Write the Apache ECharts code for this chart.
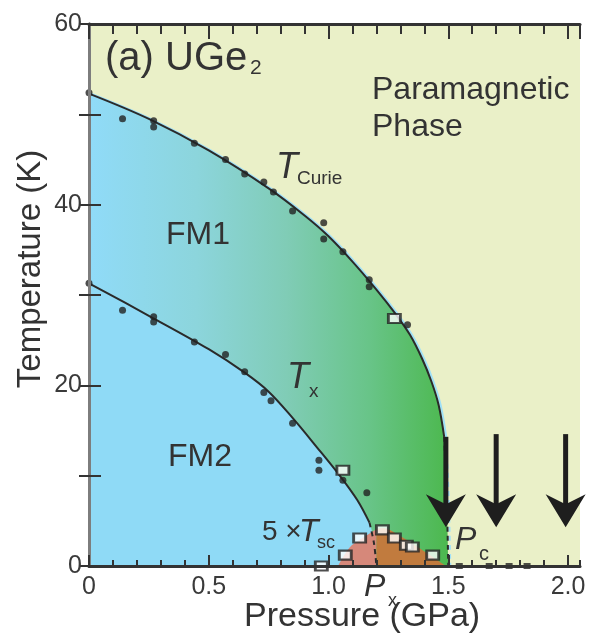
<!DOCTYPE html>
<html><head><meta charset="utf-8">
<script src="https://cdn.jsdelivr.net/npm/echarts@6/dist/echarts.min.js"></script>
<style>html,body{margin:0;padding:0;background:#fff}#c{width:594px;height:636px}</style>
</head><body><div id="c"></div>
<script>
// ---- data (pressure in GPa, temperature in K) ----
const curieP = [0, 0.25, 0.5, 0.75, 0.9, 1.0, 1.1, 1.2, 1.28, 1.34, 1.39, 1.43, 1.46, 1.483];
const curieT = [52.3, 49.5, 46.0, 41.8, 38.8, 36.5, 33.7, 30.6, 27.9, 25.6, 23.0, 20.4, 17.8, 14.3];
const curieDashP = [1.483, 1.494, 1.5];
const curieDashT = [14.3, 7.0, 0];
const txP = [0, 0.25, 0.5, 0.65, 0.75, 0.85, 0.95, 1.05, 1.12, 1.171];
const txT = [31.3, 27.7, 24.0, 21.4, 19.3, 16.4, 13.2, 9.9, 7.3, 4.8];
const txDashP = [1.171, 1.19, 1.2];
const txDashT = [4.8, 2.5, 0];
const curieDotP = [0, 0.14, 0.27, 0.27, 0.44, 0.57, 0.65, 0.73, 0.77, 0.85, 0.98, 0.98, 1.06, 1.17, 1.17, 1.33];
const curieDotT = [52.4, 49.5, 49.3, 48.6, 46.8, 45.0, 43.4, 42.5, 41.4, 39.3, 38.0, 36.2, 34.8, 31.7, 30.9, 26.7];
const txDotP = [0, 0.14, 0.27, 0.27, 0.44, 0.57, 0.65, 0.73, 0.76, 0.85, 0.96, 0.96, 1.06, 1.16];
const txDotT = [31.3, 28.3, 27.6, 27.0, 24.8, 23.4, 21.5, 19.2, 18.3, 15.8, 11.7, 10.6, 9.5, 8.1];
const openP = [1.275, 1.06];
const openT = [27.4, 10.6];
const scP = [0.97, 1.07, 1.13, 1.225, 1.275, 1.325, 1.35, 1.435];
const scT = [0, 1.2, 3.1, 4.0, 3.1, 2.3, 2.1, 1.2];
const zeroP = [1.546, 1.671, 1.754, 1.829];
const zeroT = [0, 0, 0, 0];
const scLeftP = [1.04, 1.09, 1.16, 1.2];
const scLeftT = [0, 2.1, 3.4, 4.1];
const scRightP = [1.2, 1.23, 1.275, 1.337, 1.412, 1.49];
const scRightT = [4.1, 4.2, 3.7, 2.7, 1.4, 0];
const arrowP = [1.49, 1.70, 1.99];
const arrowTopT = [14.3, 14.6, 14.6];
const arrowTipT = [4.3, 4.3, 4.3];
const xTickLabels = ['0', '0.5', '1.0', '1.5', '2.0'];
const yTickLabels = ['0', '20', '40', '60'];

// ---- helpers ----
const pairs = (xs, ys) => xs.map((x, i) => [x, ys[i]]);
const FONT = 'Liberation Sans, Arial, sans-serif';
const INK = '#333';

const chart = echarts.init(document.getElementById('c'), null, {renderer: 'canvas'});

function majorLabel(v) {
  const k = Math.round(v * 2);
  if (Math.abs(v * 2 - k) > 1e-6 || k > 4) return '';
  return xTickLabels[k];
}
function yLabel(v) {
  const k = Math.round(v / 20);
  if (Math.abs(v / 20 - k) > 1e-6) return '';
  return yTickLabels[k];
}

const xBase = {type: 'value', min: 0, max: 2.05, splitLine: {show: false}, z: 10};
const yBase = {type: 'value', min: 0, max: 60, splitLine: {show: false}, z: 10};

const txt = (text, x, y, size, extra) => ({
  type: 'text', x: x, y: y, z: 100,
  style: Object.assign({text: text, fontSize: size, fontFamily: FONT, fill: INK,
    align: 'left', verticalAlign: 'middle', textAlign: 'left', textVerticalAlign: 'middle'}, extra || {})
});

const option = {
  animation: false,
  backgroundColor: '#ffffff',
  grid: {left: 89, right: 14, top: 24, bottom: 70, show: true, backgroundColor: '#eaf0c8', borderWidth: 0},
  xAxis: [
    Object.assign({}, xBase, {position: 'bottom', interval: 0.5,
      axisLine: {show: true, lineStyle: {color: INK, width: 3}},
      axisTick: {show: true, inside: true, length: 11, lineStyle: {color: INK, width: 2}},
      axisLabel: {show: true, formatter: majorLabel, fontSize: 25, fontFamily: FONT, color: '#3a3a3a', margin: 9,
        showMaxLabel: false}}),
    Object.assign({}, xBase, {position: 'bottom', interval: 0.1,
      axisLine: {show: false}, axisLabel: {show: false},
      axisTick: {show: true, inside: true, length: 6, lineStyle: {color: INK, width: 2}}}),
    Object.assign({}, xBase, {position: 'top', interval: 0.5,
      axisLine: {show: true, lineStyle: {color: INK, width: 3}}, axisLabel: {show: false},
      axisTick: {show: true, inside: true, length: 15, lineStyle: {color: INK, width: 2}}}),
    Object.assign({}, xBase, {position: 'top', interval: 0.1,
      axisLine: {show: false}, axisLabel: {show: false},
      axisTick: {show: true, inside: true, length: 10, lineStyle: {color: INK, width: 2}}})
  ],
  yAxis: [
    Object.assign({}, yBase, {position: 'left', interval: 10,
      axisLine: {show: true, lineStyle: {color: INK, width: 3}},
      axisTick: {show: true, inside: true, length: 12, lineStyle: {color: INK, width: 2}},
      axisLabel: {show: true, formatter: yLabel, fontSize: 25, fontFamily: FONT, color: '#3a3a3a', margin: 7}}),
    Object.assign({}, yBase, {position: 'right', interval: 10,
      axisLine: {show: true, lineStyle: {color: '#7d7d7d', width: 3}}, axisLabel: {show: false},
      axisTick: {show: true, inside: true, length: 10, lineStyle: {color: INK, width: 2}}})
  ],
  series: [
    { // FM1 area (under T_Curie)
      type: 'line', data: pairs(curieP.concat(curieDashP.slice(1)), curieT.concat(curieDashT.slice(1))),
      smooth: 0.35, symbol: 'none', z: 1,
      lineStyle: {width: 0},
      areaStyle: {opacity: 1, color: new echarts.graphic.LinearGradient(0, 0, 1, 0, [
        {offset: 0, color: '#90dbf8'}, {offset: 0.3, color: '#8cd5dc'}, {offset: 0.55, color: '#80ccb6'},
        {offset: 0.78, color: '#68c488'}, {offset: 1, color: '#4cb84e'}])}
    },
    { // FM2 area (under T_x)
      type: 'line', data: pairs(txP.concat(txDashP.slice(1)), txT.concat(txDashT.slice(1))),
      smooth: 0.35, symbol: 'none', z: 2,
      lineStyle: {width: 0}, areaStyle: {opacity: 1, color: '#8fdaf6'}
    },
    { // SC dome left
      type: 'line', data: pairs(scLeftP, scLeftT), smooth: 0.3, symbol: 'none', z: 3,
      lineStyle: {width: 0}, areaStyle: {opacity: 1, color: '#d6887a'}
    },
    { // SC dome right
      type: 'line', data: pairs(scRightP, scRightT), smooth: 0.3, symbol: 'none', z: 3,
      lineStyle: {width: 0}, areaStyle: {opacity: 1, color: '#c17b3e'}
    },
    { // T_Curie line
      type: 'line', data: pairs(curieP, curieT), smooth: 0.35, symbol: 'none', z: 4,
      lineStyle: {color: '#2a2a2a', width: 2, shadowColor: '#9fe0f8', shadowOffsetX: 2, shadowBlur: 0}
    },
    {
      type: 'line', data: pairs(curieDashP, curieDashT), smooth: 0.3, symbol: 'none', z: 4,
      lineStyle: {color: '#2a2a2a', width: 2, type: [5, 4], shadowColor: '#9fe0f8', shadowOffsetX: 2, shadowBlur: 0}
    },
    { // T_x line
      type: 'line', data: pairs(txP, txT), smooth: 0.35, symbol: 'none', z: 4,
      lineStyle: {color: '#2a2a2a', width: 2}
    },
    {
      type: 'line', data: pairs(txDashP, txDashT), smooth: 0.3, symbol: 'none', z: 4,
      lineStyle: {color: '#2a2a2a', width: 2, type: [5, 4]}
    },
    { // filled markers
      type: 'scatter', data: pairs(curieDotP, curieDotT).concat(pairs(txDotP, txDotT)), z: 5,
      symbol: 'circle', symbolSize: 7, itemStyle: {color: '#222'}
    },
    {
      type: 'scatter', data: pairs(zeroP, zeroT), z: 5,
      symbol: 'rect', symbolSize: [7, 6], itemStyle: {color: '#222'}
    },
    { // open squares
      type: 'scatter', data: pairs(openP, openT).concat(pairs(scP, scT)), z: 6,
      symbol: 'rect', symbolSize: [12, 9], itemStyle: {color: '#ffffff', borderColor: '#222', borderWidth: 2.5}
    },
    { // arrows
      type: 'custom', z: 7, clip: false,
      data: arrowP.map((p, i) => [p, arrowTopT[i], arrowTipT[i]]),
      encode: {x: 0, y: [1, 2]},
      renderItem: function (params, api) {
        const top = api.coord([api.value(0), api.value(1)]);
        const tip = api.coord([api.value(0), api.value(2)]);
        return {type: 'group', children: [
          {type: 'line', shape: {x1: top[0], y1: top[1], x2: tip[0], y2: tip[1] - 20},
            style: {stroke: '#1e1e1e', lineWidth: 5}},
          {type: 'polygon', shape: {points: [[tip[0], tip[1]], [tip[0] - 20, tip[1] - 33],
            [tip[0], tip[1] - 23], [tip[0] + 20, tip[1] - 33]]}, style: {fill: '#1e1e1e'}}
        ]};
      }
    }
  ],
  graphic: [
    txt('(a) UGe', 105, 59, 40),
    txt('2', 250, 68, 21),
    txt('Paramagnetic', 372, 90, 32),
    txt('Phase', 372, 127, 32),
    txt('T', 276, 168, 36, {fontStyle: 'italic'}),
    txt('Curie', 297, 179, 19),
    txt('FM1', 198, 235, 32, {align: 'center', textAlign: 'center'}),
    txt('FM2', 200, 457, 32, {align: 'center', textAlign: 'center'}),
    txt('T', 287, 378, 36, {fontStyle: 'italic'}),
    txt('x', 309, 392, 19),
    txt('5 \u00d7', 262, 532, 28),
    txt('T', 299, 532, 32, {fontStyle: 'italic'}),
    txt('sc', 317, 543, 18),
    txt('P', 364, 587, 32, {fontStyle: 'italic'}),
    txt('x', 388, 601, 18),
    txt('P', 455, 540, 32, {fontStyle: 'italic'}),
    txt('c', 479, 554, 20),
    txt('Pressure (GPa)', 244, 617, 34),
    {type: 'text', x: 31, y: 269, rotation: Math.PI / 2, z: 100,
      style: {text: 'Temperature (K)', fontSize: 33, fontFamily: FONT, fill: INK,
        align: 'center', verticalAlign: 'middle', textAlign: 'center', textVerticalAlign: 'middle'}}
  ]
};
chart.setOption(option);
</script></body></html>
